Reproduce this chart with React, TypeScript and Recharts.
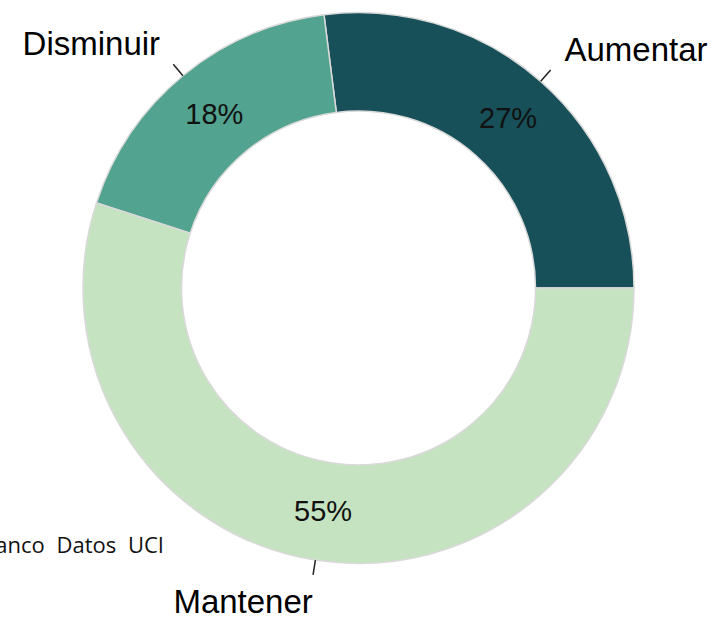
import { Pie, PieChart, Cell } from "recharts";

const categories = ["Aumentar", "Disminuir", "Mantener"];
const shares = [27, 18, 55];
const sliceColors = ["#175059", "#52a38f", "#c6e3c1"];
const sourceNote = "Fuente: Banco Datos UCI";

const data = categories.map((name, i) => ({ name, value: shares[i] }));

const RAD = Math.PI / 180;

function renderLabel(props: any) {
  const { cx, cy, midAngle, innerRadius, outerRadius, name, value } = props;
  const cos = Math.cos(-midAngle * RAD);
  const sin = Math.sin(-midAngle * RAD);
  const mid = (innerRadius + outerRadius) / 2;
  const lineIn = outerRadius;
  const lineOut = outerRadius + 15;
  const textR = outerRadius + 42;
  return (
    <g>
      <text
        x={cx + mid * cos}
        y={cy + mid * sin}
        textAnchor="middle"
        dominantBaseline="central"
        fill="#111"
        fontSize={29}
        fontFamily="'Liberation Sans', Arial, sans-serif"
      >
        {value}%
      </text>
      <line
        x1={cx + lineIn * cos}
        y1={cy + lineIn * sin}
        x2={cx + lineOut * cos}
        y2={cy + lineOut * sin}
        stroke="#222"
        strokeWidth={1.5}
      />
      <text
        x={cx + textR * cos + (cos >= 0 ? -4 : 4)}
        y={cy + textR * sin}
        textAnchor={cos >= 0 ? "start" : "end"}
        dominantBaseline="central"
        fill="#000"
        fontSize={33}
        fontFamily="'Liberation Sans', Arial, sans-serif"
      >
        {name}
      </text>
    </g>
  );
}

export default function App() {
  return (
    <div style={{ position: "absolute", left: 0, top: 0, width: 717, height: 626, background: "#fff" }}>
      <PieChart width={717} height={626} margin={{ top: 0, right: 0, bottom: 0, left: 0 }}>
        <Pie
          data={data}
          dataKey="value"
          nameKey="name"
          cx={358.5}
          cy={288}
          innerRadius={177}
          outerRadius={275.5}
          startAngle={0}
          endAngle={360}
          stroke="#d9d9d9"
          strokeWidth={1.5}
          label={renderLabel}
          labelLine={false}
          isAnimationActive={false}
        >
          {data.map((entry, i) => (
            <Cell key={entry.name} fill={sliceColors[i]} />
          ))}
        </Pie>
        <text
          x={164}
          y={553}
          textAnchor="end"
          fill="#111"
          fontSize={22}
          wordSpacing={6}
          fontFamily="'Open Sans', 'Noto Sans', sans-serif"
        >
          {sourceNote}
        </text>
      </PieChart>
    </div>
  );
}
